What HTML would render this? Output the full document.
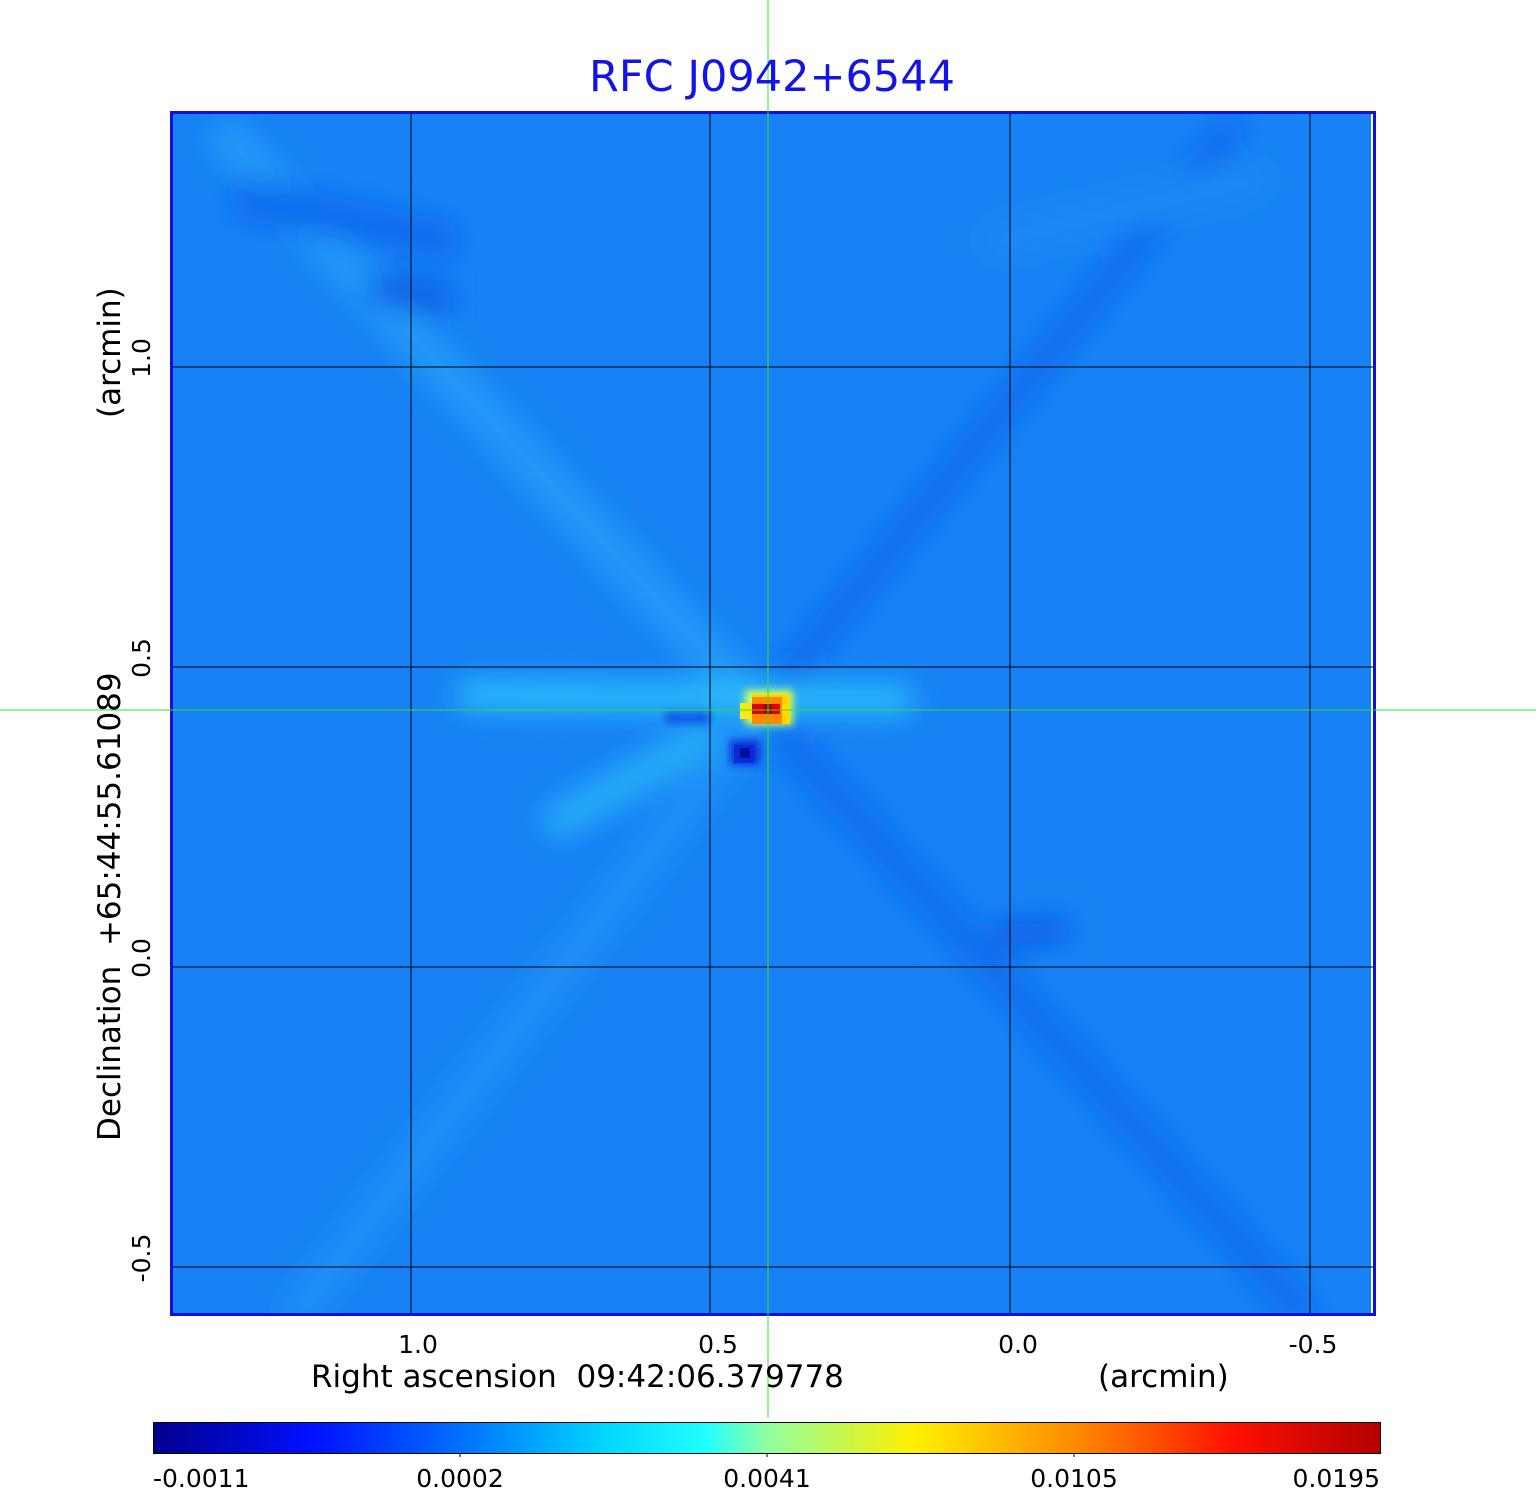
<!DOCTYPE html>
<html><head><meta charset="utf-8"><style>
html,body{margin:0;padding:0;background:#fff;}
svg{display:block;font-family:"DejaVu Sans","Liberation Sans",sans-serif;}
</style></head><body>
<svg width="1536" height="1511" viewBox="0 0 1536 1511" xmlns="http://www.w3.org/2000/svg">
<defs>
<filter id="b" filterUnits="userSpaceOnUse" x="0" y="0" width="1536" height="1511"><feGaussianBlur stdDeviation="14"/></filter>
<filter id="b2" filterUnits="userSpaceOnUse" x="0" y="0" width="1536" height="1511"><feGaussianBlur stdDeviation="4"/></filter>
<clipPath id="c"><rect x="173" y="114" width="1198" height="1200"/></clipPath>
<linearGradient id="cb" x1="0" x2="1" y1="0" y2="0">
<stop offset="0" stop-color="#00008c"/>
<stop offset="0.13" stop-color="#0010ff"/>
<stop offset="0.25" stop-color="#0070ff"/>
<stop offset="0.37" stop-color="#00d8ff"/>
<stop offset="0.45" stop-color="#20ffff"/>
<stop offset="0.5" stop-color="#90ffa0"/>
<stop offset="0.62" stop-color="#fff000"/>
<stop offset="0.75" stop-color="#ff8c00"/>
<stop offset="0.88" stop-color="#ff1000"/>
<stop offset="1" stop-color="#b40000"/>
</linearGradient>
</defs>
<rect width="1536" height="1511" fill="#fff"/>
<g clip-path="url(#c)">
<rect x="170" y="111" width="1206" height="1205" fill="#1782f5"/>
<g filter="url(#b)" stroke-linecap="round" fill="none">
<line x1="760" y1="710" x2="230" y2="140" stroke="#239af7" stroke-width="40"/>
<line x1="760" y1="710" x2="1230" y2="130" stroke="#0f6cee" stroke-width="30"/>
<line x1="760" y1="710" x2="1300" y2="1310" stroke="#116eee" stroke-width="34"/>
<line x1="760" y1="710" x2="300" y2="1310" stroke="#1c8ff6" stroke-width="40"/>
<line x1="470" y1="695" x2="900" y2="700" stroke="#2cc0f9" stroke-width="28"/>
<line x1="560" y1="820" x2="700" y2="740" stroke="#26aef8" stroke-width="34"/>
<line x1="380" y1="290" x2="440" y2="300" stroke="#0c58e2" stroke-width="26"/>
<line x1="1000" y1="935" x2="1060" y2="930" stroke="#0c5ae4" stroke-width="22"/>
<line x1="250" y1="200" x2="440" y2="240" stroke="#116cee" stroke-width="40"/>
<line x1="1000" y1="240" x2="1250" y2="180" stroke="#1a88f5" stroke-width="40"/>
</g>
<g filter="url(#b2)">
<rect x="745" y="690" width="48" height="35" fill="#d0ff60"/>
<rect x="730" y="740" width="30" height="25" fill="#0830d8"/>
<rect x="665" y="712" width="45" height="12" fill="#0c5ae8"/>
</g>
<rect x="752" y="694" width="38" height="30" fill="#ffd800"/>
<rect x="740" y="703" width="12" height="16" fill="#ffe810"/>
<rect x="752" y="697" width="30" height="27" fill="#ff8a00"/>
<rect x="752" y="704" width="28" height="10" fill="#e00000"/>
<rect x="764" y="704" width="8" height="10" fill="#a00000"/>
<rect x="734" y="745" width="20" height="18" fill="#0a2ad8"/>
<rect x="740" y="748" width="10" height="10" fill="#00109c"/>
</g>
<g stroke="#000" stroke-width="1">
<line x1="411" y1="111" x2="411" y2="1316"/>
<line x1="710" y1="111" x2="710" y2="1316"/>
<line x1="1010" y1="111" x2="1010" y2="1316"/>
<line x1="1310" y1="111" x2="1310" y2="1316"/>
<line x1="170" y1="367" x2="1376" y2="367"/>
<line x1="170" y1="667" x2="1376" y2="667"/>
<line x1="170" y1="967" x2="1376" y2="967"/>
<line x1="170" y1="1267" x2="1376" y2="1267"/>
</g>
<rect x="171.5" y="112.5" width="1203" height="1202" fill="none" stroke="#1010d8" stroke-width="3"/>
<line x1="768" y1="0" x2="768" y2="1418" stroke="#30e030" stroke-width="1"/>
<line x1="0" y1="710" x2="1536" y2="710" stroke="#30e030" stroke-width="1"/>
<text x="772" y="91" font-size="43" fill="#1414e6" text-anchor="middle">RFC J0942+6544</text>
<g font-size="25" fill="#000" text-anchor="middle">
<text x="418" y="1353">1.0</text>
<text x="718" y="1353">0.5</text>
<text x="1018" y="1353">0.0</text>
<text x="1313" y="1353">-0.5</text>
</g>
<g font-size="31" fill="#000">
<text x="311" y="1387">Right ascension &#160;09:42:06.379778</text>
<text x="1098" y="1387">(arcmin)</text>
</g>
<g font-size="25" fill="#000" text-anchor="middle">
<text transform="translate(150,358) rotate(-90)">1.0</text>
<text transform="translate(150,658) rotate(-90)">0.5</text>
<text transform="translate(150,958) rotate(-90)">0.0</text>
<text transform="translate(150,1258) rotate(-90)">-0.5</text>
</g>
<g font-size="31" fill="#000">
<text transform="translate(120,1141) rotate(-90)">Declination &#160;+65:44:55.61089</text>
<text transform="translate(120,418) rotate(-90)">(arcmin)</text>
</g>
<rect x="153.5" y="1422.5" width="1227" height="31" fill="url(#cb)" stroke="#000" stroke-width="1"/>
<g stroke="#000"><line x1="460" y1="1453" x2="460" y2="1457"/><line x1="767" y1="1453" x2="767" y2="1457"/><line x1="1074" y1="1453" x2="1074" y2="1457"/></g>
<g font-size="25" fill="#000">
<text x="153" y="1487">-0.0011</text>
<text x="460" y="1487" text-anchor="middle">0.0002</text>
<text x="767" y="1487" text-anchor="middle">0.0041</text>
<text x="1074" y="1487" text-anchor="middle">0.0105</text>
<text x="1380" y="1487" text-anchor="end">0.0195</text>
</g>
</svg>
</body></html>
